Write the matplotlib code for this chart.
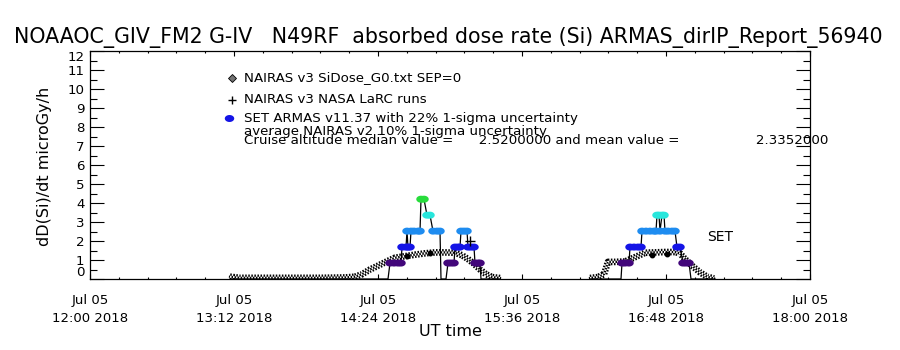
import matplotlib
matplotlib.use("Agg")
import matplotlib.pyplot as plt
import numpy as np
from matplotlib.path import Path
from matplotlib.ticker import FixedLocator, MultipleLocator

plt.rcParams['font.family'] = ['DejaVu Sans']
plt.rcParams['lines.scale_dashes'] = False

title = "NOAAOC_GIV_FM2 G-IV   N49RF  absorbed dose rate (Si) ARMAS_dirIP_Report_56940"
x_tick_hours = [12.0, 13.2, 14.4, 15.6, 16.8, 18.0]
x_tick_labels = ["Jul 05\n12:00 2018", "Jul 05\n13:12 2018", "Jul 05\n14:24 2018",
                 "Jul 05\n15:36 2018", "Jul 05\n16:48 2018", "Jul 05\n18:00 2018"]
y_ticks = list(range(0, 13))
legend_texts = ["NAIRAS v3 SiDose_G0.txt SEP=0",
                "NAIRAS v3 NASA LaRC runs",
                "SET ARMAS v11.37 with 22% 1-sigma uncertainty",
                "average NAIRAS v2 10% 1-sigma uncertainty",
                "Cruise altitude median value =      2.5200000 and mean value ="
                "                  2.3352000"]

# NAIRAS v3 SiDose_G0 model, minutes after 12:00 UT, microGy/h
nairas1_min = [70, 75, 85, 100, 115, 127.5, 132.5, 136, 140, 144, 148.5, 152.5, 157.5,
               162.5, 167.5, 172.5, 177.5, 182.5, 186, 189, 192, 195, 198, 201, 205]
nairas1_val = [0.12, 0.06, 0.06, 0.06, 0.06, 0.08, 0.12, 0.25, 0.5, 0.7, 0.93, 1.12, 1.2,
               1.28, 1.35, 1.4, 1.4, 1.38, 1.25, 1.05, 0.8, 0.5, 0.25, 0.1, 0.05]
nairas2_min = [250, 254, 257, 259, 262.5, 267.5, 272.5, 277.5, 282.5, 287.5, 292.5, 295,
               297.5, 301, 305, 308.5, 312]
nairas2_val = [0.05, 0.1, 0.25, 0.9, 0.9, 0.92, 1.15, 1.38, 1.4, 1.42, 1.42, 1.35,
               1.05, 0.7, 0.35, 0.12, 0.03]

# average NAIRAS v2 points
avg_min = [158.5, 170, 281, 288.5]
avg_val = [1.2, 1.37, 1.26, 1.32]

# NAIRAS v3 NASA LaRC runs
larc_min = [190]
larc_val = [2.0]

# SET ARMAS dose rate, minutes after 12:00 UT, microGy/h
armas1_min = [70, 100, 130, 145, 149, 150, 152, 154, 155.5, 156, 158, 158.5, 159, 160,
              160.5, 162, 164, 165, 165.5, 167, 168.5, 170, 171.5, 173.5, 175, 175.5,
              178, 179, 180.5, 182, 182.5, 184, 185, 185.5, 187, 188.5, 189, 190.5, 192,
              192.5, 194, 195, 195.5, 205]
armas1_val = [0, 0, 0, 0, 0, 0.84, 0.84, 0.84, 0.84, 1.68, 1.68, 2.52, 1.68, 1.68,
              2.52, 2.52, 2.52, 2.52, 4.20, 4.20, 3.36, 3.36, 2.52, 2.52, 2.52, 0,
              0, 0.84, 0.84, 0.84, 1.68, 1.68, 1.68, 2.52, 2.52, 2.52, 1.68, 1.68, 1.68,
              0.84, 0.84, 0.84, 0, 0]
armas2_min = [250, 255, 260, 265.5, 266, 267.5, 269.5, 270, 272, 274, 275.5, 276, 278,
              280, 282, 283, 283.5, 284.5, 285, 286, 287, 287.5, 289, 291, 292.5, 293.5,
              295, 296.5, 298, 299.5, 300.5, 305, 312.5]
armas2_val = [0, 0, 0, 0, 0.84, 0.84, 0.84, 1.68, 1.68, 1.68, 1.68, 2.52, 2.52,
              2.52, 2.52, 2.52, 3.36, 3.36, 2.52, 3.36, 3.36, 2.52, 2.52, 2.52, 2.52, 1.68,
              1.68, 0.84, 0.84, 0.84, 0, 0, 0]

set_step = 0.84
level_colors = ['black', '#42067a', '#1414e6', '#1e8cf0', '#28e6dc', '#28dc3c']

W, H = 900, 350
fig = plt.figure(figsize=(9, 3.5), dpi=100)
ax = fig.add_axes([90 / W, 1 - 279 / H, 720 / W, 228 / H])


def hrs(mins):
    return 12 + np.asarray(mins, dtype=float) / 60.0


def px(x, y):
    return (x / W, 1 - y / H)


# NAIRAS checkered band
for m, v in ((nairas1_min, nairas1_val), (nairas2_min, nairas2_val)):
    ax.plot(hrs(m), v, color='black', lw=4.8, ls=(0, (1.1, 1.1)), zorder=2,
            solid_capstyle='butt')
    ax.plot(hrs(m), v, color='black', lw=1.6, zorder=2)
    ax.plot(hrs(m), v, color='white', lw=1.6, ls=(0, (1.1, 1.1)), zorder=2)

theta = np.linspace(0, 2 * np.pi, 41)
ell = Path(np.column_stack([1.35 * np.cos(theta), np.sin(theta)]))

for m, v in ((armas1_min, armas1_val), (armas2_min, armas2_val)):
    t = hrs(m)
    v = np.asarray(v)
    ax.plot(t, v, color='black', lw=0.9, zorder=3)
    nz = v > 0
    lev = np.rint(v[nz] / set_step).astype(int)
    cols = [level_colors[min(k, 5)] for k in lev]
    ax.scatter(t[nz], v[nz], c=cols, marker=ell, s=6.8 ** 2, linewidths=0, zorder=4)

ax.plot(hrs(avg_min), avg_val, 'o', color='black', ms=3.2, zorder=5)
ax.plot(hrs(larc_min), larc_val, '+', color='black', ms=7, mew=1, zorder=5)

ax.text(hrs(308.5), 2.2, "SET", fontsize=10, ha='left', va='center')

ax.set_xlim(12, 18)
ax.set_ylim(0, 12)
ax.xaxis.set_major_locator(FixedLocator(x_tick_hours))
ax.xaxis.set_minor_locator(MultipleLocator(0.24))
ax.set_xticklabels(x_tick_labels, fontsize=9.5, linespacing=1.45)
ax.yaxis.set_major_locator(FixedLocator(y_ticks))
ax.yaxis.set_minor_locator(MultipleLocator(0.5))
ylabels = ax.set_yticklabels([str(t) for t in y_ticks], fontsize=9.6)
ylabels[0].set_va('bottom')
ylabels[-1].set_va('top')
ax.tick_params(axis='x', which='major', direction='in', length=3.3, width=0.8,
               top=True, pad=11)
ax.tick_params(axis='x', which='minor', direction='in', length=1.7, width=0.8, top=True)
ax.tick_params(axis='y', which='major', direction='in', length=10, width=0.8,
               right=True, pad=4)
ax.tick_params(axis='y', which='minor', direction='in', length=5, width=0.8, right=True)
for s in ax.spines.values():
    s.set_linewidth(0.9)

fig.text(*px(448, 37), title, fontsize=14.8, ha='center', va='center')
fig.text(*px(450, 332), "UT time", fontsize=11.5, ha='center', va='center')
fig.text(*px(45, 166), "dD(Si)/dt microGy/h", fontsize=11.5, ha='center', va='center',
         rotation=90)

leg_y = [78, 99, 118, 131, 141]
for txt, yy in zip(legend_texts, leg_y):
    fig.text(*px(244, yy), txt, fontsize=9.6, ha='left', va='center')

fig.add_artist(plt.Line2D([232 / W], [1 - 78 / H], marker='D', ms=4.5,
                          mfc='0.45', mec='black', mew=0.6, ls='none'))
fig.add_artist(plt.Line2D([232 / W], [1 - 100 / H], marker='+', ms=6, mew=1,
                          color='black', ls='none'))
fig.add_artist(plt.Line2D([229 / W], [1 - 118 / H], marker=ell, ms=6.8,
                          mfc='#1414e6', mec='none', ls='none'))

fig.savefig("out.png", dpi=100)
